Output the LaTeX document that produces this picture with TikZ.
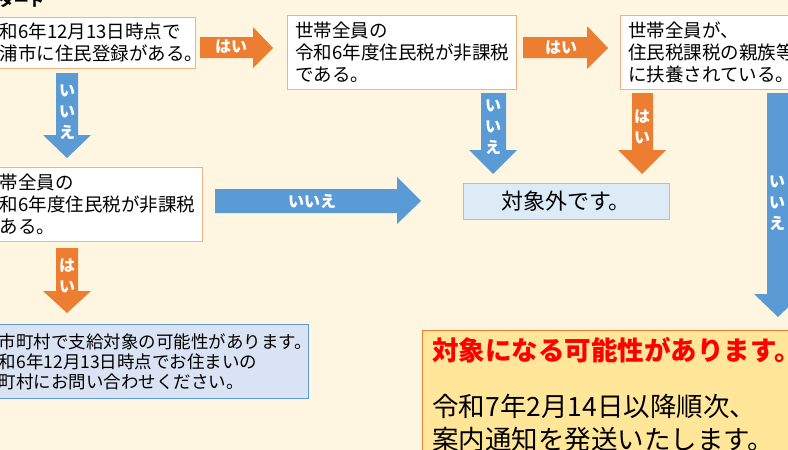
\documentclass[tikz,border=0pt]{standalone}
\usepackage{fontspec}
\setmainfont{Noto Sans CJK JP}
\definecolor{bgcream}{HTML}{FEF6E1}
\definecolor{yesorange}{HTML}{ED7D31}
\definecolor{noblue}{HTML}{5B9BD5}
\definecolor{boxline}{HTML}{F4B183}
\definecolor{outfill}{HTML}{DDEBF7}
\definecolor{outline}{HTML}{9DC3E6}
\definecolor{askfill}{HTML}{DAE3F3}
\definecolor{resfill}{HTML}{FFE699}
\tikzset{
  qbox/.style={draw=boxline, fill=white, line width=0.8pt, align=left, anchor=north west,
    inner xsep=8pt, inner ysep=0pt, font=\fontsize{18.5}{22}\selectfont},
  yesarrow/.style={fill=yesorange},
  noarrow/.style={fill=noblue},
  arrowlabel/.style={text=white, align=center, inner sep=0pt, font=\bfseries\fontsize{16}{21}\selectfont}
}
\begin{document}
\begin{tikzpicture}[x=1pt,y=-1pt]
    \useasboundingbox (0,0) rectangle (788,450);
    \clip (0,0) rectangle (788,450);
    \fill[bgcream] (0,0) rectangle (788,450);

    % Question boxes
    \node[font=\bfseries\fontsize{15}{18}\selectfont, anchor=east, inner sep=0pt] (start) at (44,1) {スタート};
    \node[qbox, text width=206pt, minimum height=51pt] (reg) at (-27,17)
        {令和6年12月13日時点で\\\hspace*{1em}浦市に住民登録がある。};
    \node[qbox, text width=213pt, minimum height=74pt] (tax) at (287,15)
        {世帯全員の\\令和6年度住民税が非課税\\である。};
    \node[qbox, text width=204pt, minimum height=74pt] (dep) at (620,15)
        {世帯全員が、\\住民税課税の親族等\\に扶養されている。};
    \node[qbox, text width=213pt, minimum height=74pt] (taxother) at (-27,167)
        {世帯全員の\\令和6年度住民税が非課税\\である。};

    % Result boxes
    \node[draw=outline, fill=outfill, line width=0.8pt, minimum width=206pt, minimum height=36pt,
        font=\fontsize{22}{26}\selectfont] (out) at (566,201) {対象外です。};
    \node[qbox, draw=noblue, fill=askfill, text width=323pt, inner xsep=4pt, minimum height=74pt,
        font=\fontsize{17.5}{20}\selectfont] (ask) at (-23,324)
        {\hspace*{1em}市町村で支給対象の可能性があります。\\令和6年12月13日時点でお住まいの\\市町村にお問い合わせください。};
    \node[qbox, draw=yesorange, fill=resfill, text width=370pt, inner xsep=10pt, inner ysep=7pt,
        font=\fontsize{26.5}{33}\selectfont] (result) at (422,330)
        {\textcolor{red}{\bfseries 対象になる可能性があります。}\\[23pt]令和7年2月14日以降順次、\\案内通知を発送いたします。};

    % Yes arrows
    \fill[yesarrow] (200,37) -- (253,37) -- (253,27) -- (273,48) -- (253,68) -- (253,58) -- (200,58) -- cycle;
    \fill[yesarrow] (523,37) -- (587,37) -- (587,26) -- (608,48) -- (587,69) -- (587,58) -- (523,58) -- cycle;
    \fill[yesarrow] (632,93) -- (653,93) -- (653,150) -- (666,150) -- (642,174) -- (618,150) -- (632,150) -- cycle;
    \fill[yesarrow] (56,248) -- (78,248) -- (78,291) -- (91,291) -- (67,313) -- (43,291) -- (56,291) -- cycle;

    % No arrows
    \fill[noarrow] (56,73) -- (78,73) -- (78,135) -- (91,135) -- (67,158) -- (43,135) -- (56,135) -- cycle;
    \fill[noarrow] (481,93) -- (506,93) -- (506,150) -- (517,150) -- (493,174) -- (469,150) -- (481,150) -- cycle;
    \fill[noarrow] (215,189) -- (397,189) -- (397,177) -- (421,201) -- (397,224) -- (397,213) -- (215,213) -- cycle;
    \fill[noarrow] (767,93) -- (789,93) -- (789,294) -- (802,294) -- (778,317) -- (754,294) -- (767,294) -- cycle;

    % Arrow labels
    \node[arrowlabel] (yes1) at (231,47) {はい};
    \node[arrowlabel] (yes2) at (561,48) {はい};
    \node[arrowlabel] (yes3) at (642,127) {は\\い};
    \node[arrowlabel] (yes4) at (67,276) {は\\い};
    \node[arrowlabel] (no1) at (67,112) {い\\い\\え};
    \node[arrowlabel] (no2) at (493,127) {い\\い\\え};
    \node[arrowlabel] (no3) at (312,201) {いいえ};
    \node[arrowlabel] (no4) at (777,203) {い\\い\\え};
\end{tikzpicture}
\end{document}
